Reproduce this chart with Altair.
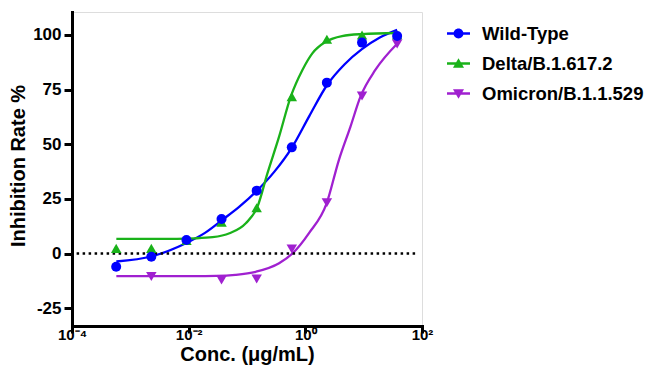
import altair as alt
import pandas as pd

# ---------------- data ----------------
series = ["Wild-Type", "Delta/B.1.617.2", "Omicron/B.1.1.529"]
colors = ["#0000FF", "#1AB21A", "#A020D0"]

conc = [0.000572, 0.00229, 0.00916, 0.0366, 0.1465, 0.586, 2.34, 9.375, 37.5]
wt_pts = [-6.0, -1.4, 6.2, 15.8, 28.8, 48.6, 78.2, 96.5, 99.5]
delta_pts = [2.4, 2.4, 6.0, 14.4, 21.0, 71.8, 98.0, 100.0, 100.0]
omicron_pts = [None, -10.5, None, -12.1, -11.6, 2.1, 23.3, 72.1, 95.9]

# fitted curves (log10 concentration, inhibition %)
wt_fit_log = [-3.24, -2.63, -2.03, -1.72, -1.42, -1.13, -0.84, -0.53, -0.23, 0.07, 0.37, 0.67, 0.97, 1.27, 1.574]
wt_fit = [-3.6, -1.2, 5.0, 9.5, 15.5, 21.5, 28.5, 37.5, 48.5, 63.0, 77.0, 86.5, 93.5, 98.7, 102.3]

delta_fit_log = [-3.24, -2.5, -1.9, -1.59, -1.30, -1.02, -0.82, -0.65, -0.45, -0.25, -0.05, 0.12, 0.35, 0.63, 0.97, 1.574]
delta_fit = [6.7, 6.7, 7.0, 7.5, 9.3, 13.9, 21.5, 36.7, 53.5, 71.8, 84.0, 91.6, 96.9, 99.5, 100.4, 100.9]

omicron_fit_log = [-3.24, -2.5, -1.9, -1.53, -1.2, -0.85, -0.45, -0.22, 0.06, 0.365, 0.575, 0.774, 0.945, 1.20, 1.574]
omicron_fit = [-10.3, -10.3, -10.3, -10.2, -9.7, -8.3, -4.4, 0.1, 9.3, 23.0, 42.8, 58.1, 71.8, 84.0, 96.0]

x_ticks = [0.0001, 0.01, 1, 100]
y_ticks = [-25, 0, 25, 50, 75, 100]

# ---------------- tables ----------------
pt_rows = []
for name, vals in zip(series, [wt_pts, delta_pts, omicron_pts]):
    for c, v in zip(conc, vals):
        if v is not None:
            pt_rows.append({"series": name, "conc": c, "value": v})
points = pd.DataFrame(pt_rows)

fit_rows = []
for name, logs, vals in zip(series, [wt_fit_log, delta_fit_log, omicron_fit_log],
                            [wt_fit, delta_fit, omicron_fit]):
    for l, v in zip(logs, vals):
        fit_rows.append({"series": name, "conc": 10 ** l, "value": v})
curves = pd.DataFrame(fit_rows)

FONT = "Liberation Sans"

x_enc = alt.X(
    "conc:Q",
    scale=alt.Scale(type="log", domain=[0.0001, 100], nice=False),
    axis=alt.Axis(
        values=x_ticks,
        labelExpr="datum.value < 0.001 ? '10⁻⁴' : datum.value < 0.1 ? '10⁻²' : datum.value < 10 ? '10⁰' : '10²'",
        title="Conc. (μg/mL)",
        grid=False,
        domainColor="black", domainWidth=3, domainCap="square",
        tickColor="black", tickWidth=3, tickSize=7,
        labelFont=FONT, labelFontWeight="bold", labelFontSize=15, labelColor="black",
        labelPadding=-6, labelFlush=False,
        titleFont=FONT, titleFontWeight="bold", titleFontSize=20, titleColor="black",
        titleY=34, titleBaseline="alphabetic",
    ),
)
y_enc = alt.Y(
    "value:Q",
    scale=alt.Scale(domain=[-33.1, 110.5], nice=False, zero=False),
    axis=alt.Axis(
        values=y_ticks,
        labelExpr="'' + datum.value",
        title="Inhibition Rate %",
        grid=False,
        domainColor="black", domainWidth=3, domainCap="square",
        tickColor="black", tickWidth=3, tickSize=8,
        labelFont=FONT, labelFontWeight="bold", labelFontSize=17, labelColor="black",
        labelPadding=3,
        titleFont=FONT, titleFontWeight="bold", titleFontSize=20, titleColor="black",
        titleAngle=270, titleX=-54, titleY=153.5, titleAlign="center", titleBaseline="middle",
    ),
)

color_scale = alt.Scale(domain=series, range=colors)

zero_line = alt.Chart(pd.DataFrame({"v": [0]})).mark_rule(
    color="black", strokeWidth=2.5, strokeDash=[2.5, 3.5]
).encode(
    x=alt.datum(0.00012), x2=alt.datum(85), y=alt.Y("v:Q")
)

lines = alt.Chart(curves).mark_line(strokeWidth=2.3, interpolate="monotone").encode(
    x=x_enc, y=y_enc,
    color=alt.Color("series:N", scale=color_scale, legend=None),
)

def pts(name, shape, size):
    col = colors[series.index(name)]
    return alt.Chart(points).transform_filter(
        alt.datum.series == name
    ).mark_point(filled=True, shape=shape, size=size, opacity=1, color=col).encode(
        x=alt.X("conc:Q"), y=alt.Y("value:Q")
    )

pts_delta = pts("Delta/B.1.617.2", "triangle-up", 110)
pts_omicron = pts("Omicron/B.1.1.529", "triangle-down", 110)
pts_wt = pts("Wild-Type", "circle", 100)

# legend symbols: a short line with the marker on it
line_part = "M-1,-0.1H1V0.1H-1Z"
legend_paths = [
    line_part + "M-0.43,0A0.43,0.43,0,1,1,0.43,0A0.43,0.43,0,1,1,-0.43,0Z",
    line_part + "M0,-0.46L0.48,0.36L-0.48,0.36Z",
    line_part + "M-0.48,-0.36L0.48,-0.36L0,0.46Z",
]
leg = alt.Legend(
    title=None, orient="none", legendX=375, legendY=10, direction="vertical",
    labelFont=FONT, labelFontWeight="bold", labelFontSize=18.5, labelColor="black",
    labelOffset=12, rowPadding=9, symbolSize=529, padding=0,
    symbolStrokeWidth=0, symbolOpacity=1, labelLimit=300,
)
# legend-only layer: its markers have size 0, so only the legend shows
legend_layer = alt.Chart(points).mark_point(
    filled=True, size=0, opacity=1
).encode(
    x=alt.X("conc:Q"), y=alt.Y("value:Q"),
    shape=alt.Shape("series:N", scale=alt.Scale(domain=series, range=legend_paths), legend=leg),
    fill=alt.Fill("series:N", scale=alt.Scale(domain=series, range=colors), legend=leg),
)

chart = alt.layer(
    legend_layer, lines, zero_line, pts_delta, pts_omicron, pts_wt
).properties(
    width=350, height=314,
    autosize=alt.AutoSizeParams(type="none"),
    padding={"left": 64, "top": 4, "right": 225, "bottom": 40},
).configure_view(stroke=None).configure(background="white")

chart.save("out.html", embed_options={"renderer": "svg", "actions": False})
